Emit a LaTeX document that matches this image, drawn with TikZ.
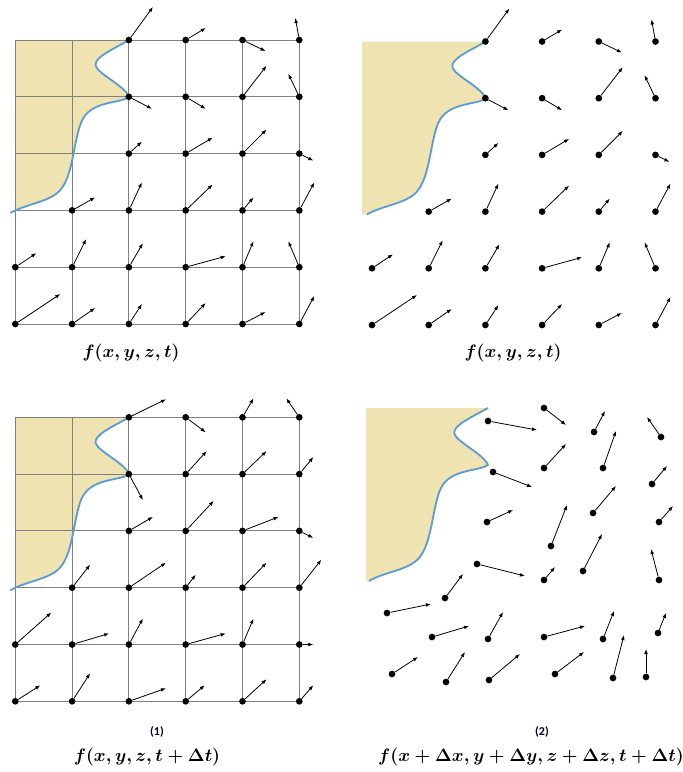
\documentclass[tikz,border=0pt]{standalone}
\usepackage{fix-cm}
\usepackage{amsmath}
\usepackage{fontspec}
\newfontfamily\tagfont{Carlito}
\usepackage{tikz}
\usetikzlibrary{arrows.meta}

\definecolor{sand}{RGB}{239,227,177}
\definecolor{shore}{RGB}{91,155,213}

\def\fieldT{2/0/24/-33, 3/0/20/-12, 4/0/23/11, 5/0/-4/-22,
 2/1/23/12, 3/1/20/12, 4/1/24/-31, 5/1/-11/-23,
 2/2/13/-12, 3/2/27/-16, 4/2/24/-24, 5/2/14/7,
 1/3/23/-13, 2/3/13/-28, 3/3/27/-26, 4/3/11/-13, 5/3/15/-28,
 0/4/21/-14, 1/4/14/-28, 2/4/14/-24, 3/4/40/-11, 4/4/11/-26, 5/4/-11/-26,
 0/5/45/-30, 1/5/23/-16, 2/5/13/-20, 3/5/20/-21, 4/5/23/-12, 5/5/15/-28}
\def\fieldTdt{2/0/37/-18, 3/0/20/15, 4/0/11/-19, 5/0/-13/-19,
 2/1/14/26, 3/1/21/-23, 4/1/24/-23, 5/1/14/-17,
 2/2/24/-14, 3/2/28/-30, 4/2/36/-14, 5/2/14/7,
 1/3/18/-23, 2/3/37/-25, 3/3/10/-13, 4/3/24/-25, 5/3/22/-28,
 0/4/36/-32, 1/4/37/-11, 2/4/14/-26, 3/4/40/-11, 4/4/11/-26, 5/4/14/0,
 0/5/25/-16, 1/5/18/-28, 2/5/37/-13, 3/5/19/-16, 4/5/24/-22, 5/5/14/-16}
\def\fieldMoved{488/421/49/9, 544/408/22/17, 594/432/11/-21, 661/437/-14/-20,
 544/468/22/-24, 603/468/13/-37, 493/472/39/15, 652/484/15/-18,
 487/522/26/-12, 593/513/23/-27, 659/522/14/-16, 551/546/16/-41,
 583/571/19/-37, 659/580/-8/-31, 477/564/48/12, 544/580/11/-13,
 445/598/18/-24, 387/613/44/-9, 432/637/37/-11, 488/639/15/-27,
 544/637/41/-11, 603/639/11/-28, 658/633/8/-20, 392/674/26/-17,
 446/682/19/-30, 489/680/31/-26, 555/674/29/-22, 613/678/11/-43,
 646/677/0/-28}

% boundary of the fluid region, in panel units
\newcommand{\shoreline}{(114,0) .. controls (96,10) and (78,18) .. (80.5,26)
 .. controls (83,34) and (108,45) .. (114,56.7)
 .. controls (105,64) and (75,60) .. (66,82)
 .. controls (58,102) and (58,135) .. (45,150)
 .. controls (35,162) and (10,164) .. (-5,173)}
\newcommand{\coast}[1]{%
  \begin{scope}
    \clip (#1,-1) rectangle (130,180);
    \fill[sand] (#1,0) -- \shoreline -- (#1,173) -- cycle;
  \end{scope}}

\begin{document}
\begin{tikzpicture}[x=1pt,y=-1pt,>=Latex,
  dot/.style={circle,fill=black,inner sep=0pt,minimum size=6.7pt},
  vec/.style={-{Latex[length=5pt,width=3.8pt]},line width=0.8pt},
  gridline/.style={draw=black!50,line width=0.9pt},
  coastline/.style={draw=shore,line width=1.8pt},
  formula/.style={font=\fontsize{18}{21}\selectfont\boldmath,inner sep=0pt},
  tag/.style={font=\fontsize{12}{14}\selectfont\tagfont\bfseries,text=black!85!blue,inner sep=0pt}]
\useasboundingbox (0,0) rectangle (683,772);

\begin{scope}[shift={(15.3,40)}]
  \coast{0}
  \foreach \i in {0,...,5}{
    \draw[gridline] (\i*56.8,0) -- (\i*56.8,284);
    \draw[gridline] (0,\i*56.8) -- (284,\i*56.8);}
  \draw[coastline] \shoreline;
  \foreach \c/\r/\u/\v [count=\k] in \fieldT {
    \node[dot] (a\k) at (\c*56.8,\r*56.8) {};
    \path (a\k) ++(\u,\v) coordinate (a\k-tip);
    \draw[vec] (a\k) -- (a\k-tip);}
\end{scope}

\begin{scope}[shift={(372,41.5)}]
  \coast{-10}
  \draw[coastline] \shoreline;
  \foreach \c/\r/\u/\v [count=\k] in \fieldT {
    \node[dot] (b\k) at (\c*56.7,\r*56.7) {};
    \path (b\k) ++(\u,\v) coordinate (b\k-tip);
    \draw[vec] (b\k) -- (b\k-tip);}
\end{scope}

\begin{scope}[shift={(15.3,417.3)}]
  \coast{0}
  \foreach \i in {0,...,5}{
    \draw[gridline] (\i*56.8,0) -- (\i*56.8,284);
    \draw[gridline] (0,\i*56.8) -- (284,\i*56.8);}
  \draw[coastline] \shoreline;
  \foreach \c/\r/\u/\v [count=\k] in \fieldTdt {
    \node[dot] (c\k) at (\c*56.8,\r*56.8) {};
    \path (c\k) ++(\u,\v) coordinate (c\k-tip);
    \draw[vec] (c\k) -- (c\k-tip);}
\end{scope}

\begin{scope}[shift={(374,408)}]
  \coast{-8}
  \draw[coastline] \shoreline;
\end{scope}
\foreach \px/\py/\u/\v [count=\k] in \fieldMoved {
  \node[dot] (d\k) at (\px,\py) {};
  \path (d\k) ++(\u,\v) coordinate (d\k-tip);
  \draw[vec] (d\k) -- (d\k-tip);}

\node[formula] (lab1) at (131,353) {$f(x,y,z,t)$};
\node[formula] (lab2) at (513,353) {$f(x,y,z,t)$};
\node[tag] (tag1) at (157,732) {(1)};
\node[formula] (lab3) at (147,757) {$f(x,y,z,t+\Delta t)$};
\node[tag] (tag2) at (542,732) {(2)};
\node[formula] (lab4) at (531,757) {$f(x+\Delta x,y+\Delta y,z+\Delta z,t+\Delta t)$};
\end{tikzpicture}
\end{document}
